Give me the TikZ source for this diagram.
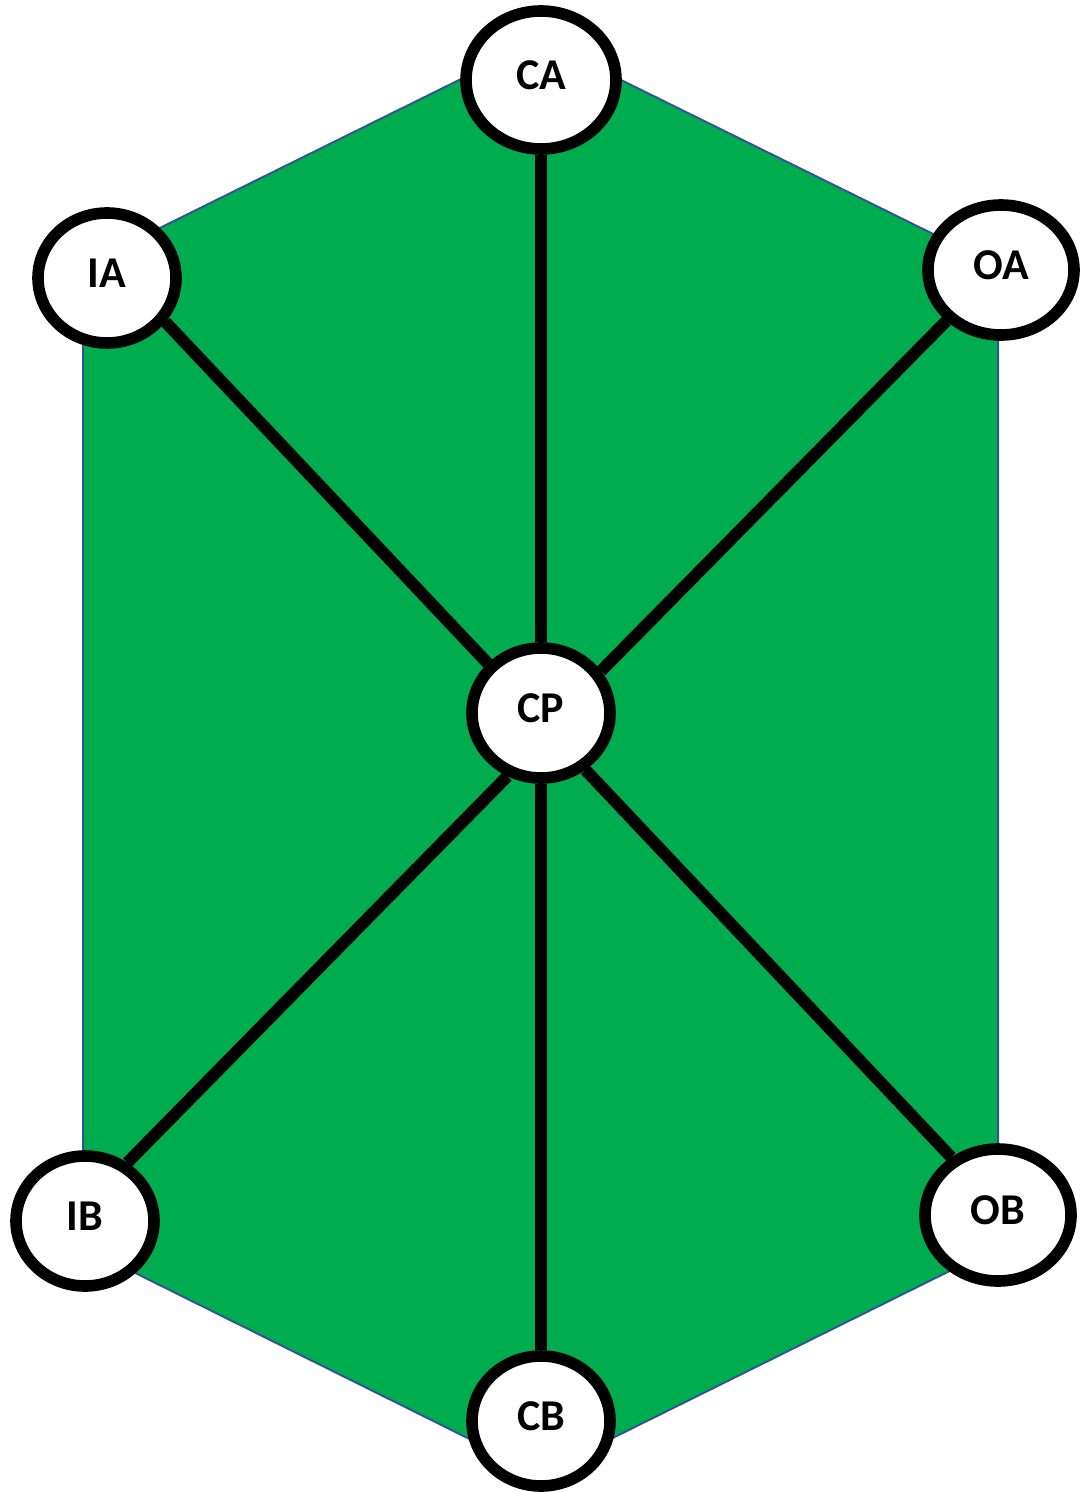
\documentclass[tikz,border=0pt]{standalone}
\usepackage{fontspec}
\setmainfont{Carlito}
\usepackage{tikz}
\usetikzlibrary{shapes.geometric}
\definecolor{hexgreen}{RGB}{0,173,78}
\definecolor{hexblue}{RGB}{47,85,151}

\begin{document}
\begin{tikzpicture}[x=0.5pt, y=-0.5pt,
			station/.style={draw, ellipse, line width=5.8pt, fill=white, inner sep=0pt, text depth=5pt,
				minimum width=69pt, minimum height=65pt, font=\bfseries\fontsize{22}{24}\selectfont},
			link/.style={line width=6pt}]
			
			\useasboundingbox (0,0) rectangle (1080,1492);
			
			% green hexagon behind everything
			\filldraw[fill=hexgreen, draw=hexblue, line width=1pt]
				(540,40) -- (998,266) -- (998,1247) -- (540,1474) -- (83,1247) -- (83,266) -- cycle;
			
			\node[station, minimum width=75pt, minimum height=69pt] (ca) at (541,80) {CA};
			\node[station] (ia) at (107,278) {IA};
			\node[station, minimum width=73pt] (oa) at (1001,270) {OA};
			\node[station] (cp) at (541,713) {CP};
			\node[station] (ib) at (85,1221) {IB};
			\node[station, minimum width=73pt, minimum height=66pt] (ob) at (998,1215) {OB};
			\node[station] (cb) at (541,1421) {CB};
			
			\draw[link] (ca) -- (cp);
			\draw[link] (ia.-37) -- (cp.137);
			\draw[link] (oa.223) -- (cp.35);
			\draw[link] (ib.54) -- (cp.242);
			\draw[link] (ob.129) -- (cp.-52);
			\draw[link] (cb) -- (cp);
			
		\end{tikzpicture}
\end{document}
